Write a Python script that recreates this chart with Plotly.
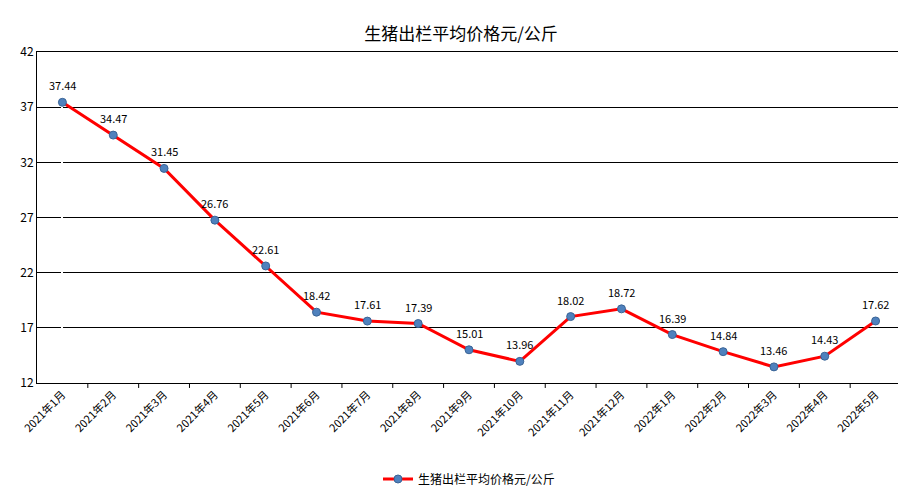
import plotly.graph_objects as go

months = ["2021年1月","2021年2月","2021年3月","2021年4月","2021年5月","2021年6月","2021年7月","2021年8月",
          "2021年9月","2021年10月","2021年11月","2021年12月","2022年1月","2022年2月","2022年3月","2022年4月","2022年5月"]
prices = [37.44,34.47,31.45,26.76,22.61,18.42,17.61,17.39,15.01,13.96,18.02,18.72,16.39,14.84,13.46,14.43,17.62]
name = "生猪出栏平均价格元/公斤"
font = "Noto Sans CJK SC"

fig = go.Figure(go.Scatter(
    x=list(range(len(months))), y=prices, name=name, mode="lines+markers",
    line=dict(color="#ff0000", width=3),
    marker=dict(color="#4f81bd", size=8, line=dict(color="#3a6496", width=1)),
))
for i, v in enumerate(prices):
    fig.add_annotation(x=i, y=v, text=f"{v:.2f}", showarrow=False, yshift=17,
                       font=dict(size=11, color="#000000"))
fig.update_layout(
    width=906, height=498, paper_bgcolor="white", plot_bgcolor="white",
    font=dict(family=font, color="#000000"),
    title=dict(text=name, x=0.5, xanchor="center", y=0.96, font=dict(size=17)),
    margin=dict(l=24, r=13, t=44, b=97),
    showlegend=True,
    legend=dict(orientation="h", x=0.5, xanchor="center", y=-0.29, yanchor="middle", font=dict(size=12)),
    xaxis=dict(range=[-0.5, len(months)-0.5], tickvals=list(range(len(months))), ticktext=months,
               tickangle=-45, showgrid=False, showline=True, linecolor="black", linewidth=1,
               mirror=True, ticks="", tickfont=dict(size=11)),
    yaxis=dict(range=[12, 42], tick0=12, dtick=5, showgrid=True, gridcolor="black", gridwidth=1,
               showline=True, linecolor="black", mirror=True, zeroline=False, tickfont=dict(size=12)),
)
for i in range(1, len(months)):
    fig.add_shape(type="line", xref="x", yref="paper", x0=i-0.5, x1=i-0.5, y0=0, y1=-0.015,
                  line=dict(color="black", width=1))
fig.write_html("out.html")
